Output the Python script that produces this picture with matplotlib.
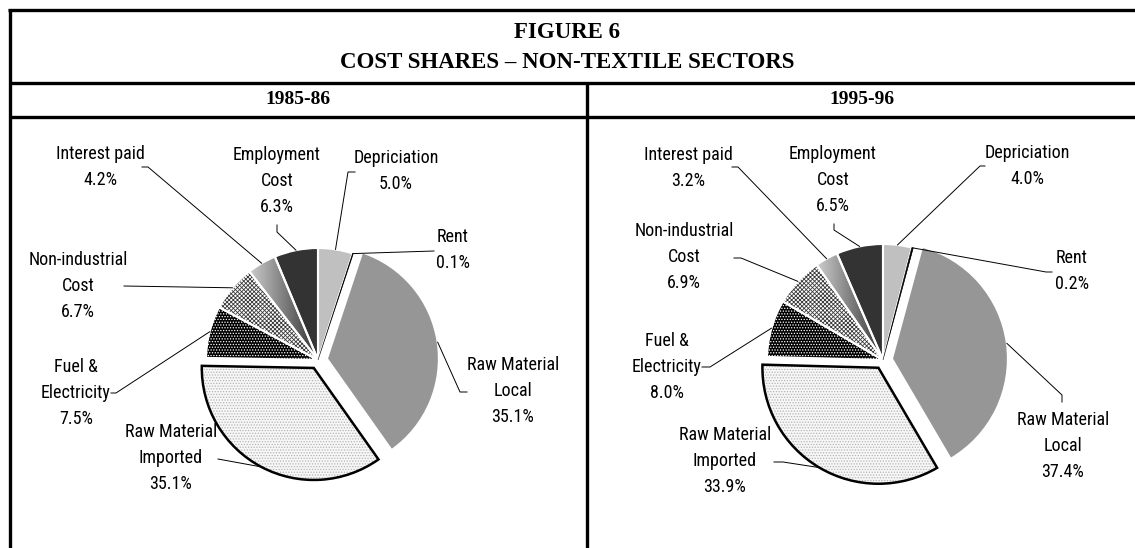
import numpy as np
import matplotlib
matplotlib.use("Agg")
import matplotlib.pyplot as plt
import matplotlib.patches as mpatches
from matplotlib import font_manager

W, H = 1135, 548

categories = ["Depriciation", "Rent", "Raw Material\nLocal", "Raw Material\nImported",
              "Fuel &\nElectricity", "Non-industrial\nCost", "Interest paid", "Employment\nCost"]
shares_8586 = [5.0, 0.1, 35.1, 35.1, 7.5, 6.7, 4.2, 6.3]
shares_9596 = [4.0, 0.2, 37.4, 33.9, 8.0, 6.9, 3.2, 6.5]
years = ["1985-86", "1995-96"]

# look of each slice: face, hatch, hatch colour
faces = ["#c0c0c0", "#000000", "#969696", "#f7f7f7", "#000000", "#ffffff", None, "#333333"]
hatches = [None, None, None, "......", "......", "xxxxxxxx", None, None]
hatch_cols = [None, None, None, "#b4b4b4", "#ffffff", "#3a3a3a", None, None]
explode = [0, 0, 9, 9, 0, 0, 0, 0]

# layout (pixels, y down): pie centre/radius, label centres, leader start + elbow
pies = [dict(c=(318, 360), r=112), dict(c=(883, 360), r=116)]
label_xy = [
    [(396, 171), (453, 250), (513, 391), (171, 458), (76, 393), (78, 286), (100, 167), (277, 181)],
    [(1027, 166), (1072, 271), (1063, 446), (725, 461), (667, 367), (684, 257), (688, 168), (833, 180)],
]
leader_pts = [
    [[(355, 172), (348, 172)], [(434, 251), (434, 251)], [(467, 392), (460, 392)],
     [(218, 459), (218, 459)], [(111, 393), (116, 393)], [(124, 286), (124, 286)],
     [(142, 167), (148, 167)], [(277, 225), (277, 232)]],
    [[(985, 166), (980, 166)], [(1052, 272), (1046, 272)], [(1062, 402), (1062, 395)],
     [(774, 462), (783, 462)], [(702, 367), (710, 367)], [(734, 258), (741, 258)],
     [(732, 167), (738, 167)], [(834, 224), (834, 230)]],
]

names = {f.name for f in font_manager.fontManager.ttflist}
lab_font = ["Liberation Sans"]
lab_size = 12
for cand in ["Liberation Sans Narrow", "DejaVu Sans Condensed", "Roboto Condensed"]:
    if cand in names:
        lab_font = [cand, "Liberation Sans"]
        lab_size = 13
        break
plt.rcParams["hatch.linewidth"] = 0.6

fig = plt.figure(figsize=(W / 100, H / 100), dpi=100)
ax = fig.add_axes([0, 0, 1, 1])

for k, vals in enumerate([shares_8586, shares_9596]):
    p = pies[k]
    # y axis is flipped, so counterclock + start at -90 reads clockwise from 12 o'clock
    wedges, _ = ax.pie(vals, center=p["c"], radius=p["r"], startangle=-90, counterclock=True,
                       explode=explode, normalize=True)
    for i, w in enumerate(wedges):
        if faces[i] is None:
            # gradient fill for interest paid
            w.set_facecolor("none")
            w.set_linewidth(0)
            x0, y0, x1, y1 = w.get_path().get_extents(w.get_patch_transform()).extents
            grad = np.linspace(0.8, 0.2, 64).reshape(1, -1)
            im = ax.imshow(grad, cmap="gray", vmin=0, vmax=1, extent=(x0, x1, y1, y0),
                           aspect="auto", zorder=1)
            im.set_clip_path(w)
            continue
        w.set_facecolor(faces[i])
        w.set_linewidth(0)
        if hatches[i]:
            w.set_hatch(hatches[i])
            w.set_edgecolor(hatch_cols[i])
        w.set_zorder(1)
    # outlines
    for i, w in enumerate(wedges):
        if i == 1:
            continue
        ec, lw = ("black", 1.8) if i == 3 else ("white", 1.5)
        ax.add_patch(mpatches.Wedge(w.center, w.r, w.theta1, w.theta2, facecolor="none",
                                    edgecolor=ec, linewidth=lw, zorder=2))
    rent = wedges[1]
    ax.add_patch(mpatches.Wedge(rent.center, rent.r, rent.theta1, rent.theta2,
                                facecolor="black", edgecolor="black", linewidth=0.4, zorder=3))

    for i, w in enumerate(wedges):
        lx, ly = label_xy[k][i]
        ax.text(lx, ly, "%s\n%.1f%%" % (categories[i], vals[i]), ha="center", va="center",
                multialignment="center", fontsize=lab_size, family=lab_font, linespacing=1.55,
                zorder=4)
        tm = np.deg2rad((w.theta1 + w.theta2) / 2)
        ex = w.center[0] + w.r * np.cos(tm)
        ey = w.center[1] + w.r * np.sin(tm)
        (sx, sy), (bx, by) = leader_pts[k][i]
        ax.plot([sx, bx, ex], [sy, by, ey], color="black", lw=0.7, zorder=4)

# table frame
lw_t = 2.4
ax.plot([8, W], [10, 10], color="black", lw=lw_t, solid_capstyle="butt")
ax.plot([10, 10], [8.5, H], color="black", lw=lw_t, solid_capstyle="butt")
ax.plot([10, W], [82.5, 82.5], color="black", lw=lw_t, solid_capstyle="butt")
ax.plot([10, W], [116.5, 116.5], color="black", lw=lw_t, solid_capstyle="butt")
ax.plot([587, 587], [82.5, H], color="black", lw=lw_t, solid_capstyle="butt")

ax.text(567, 33, "FIGURE 6", ha="center", va="center", fontsize=16.5, fontweight="bold",
        family="Liberation Serif")
ax.text(567, 63, "COST SHARES \u2013 NON-TEXTILE SECTORS", ha="center", va="center",
        fontsize=16.5, fontweight="bold", family="Liberation Serif")
ax.text(298, 100, years[0], ha="center", va="center", fontsize=14, fontweight="bold",
        family="Liberation Serif")
ax.text(862, 100, years[1], ha="center", va="center", fontsize=14, fontweight="bold",
        family="Liberation Serif")

ax.set_xlim(0, W)
ax.set_ylim(H, 0)
ax.set_aspect("auto")
ax.axis("off")

fig.savefig("out.png", dpi=100)
